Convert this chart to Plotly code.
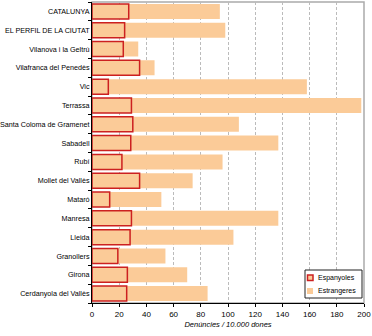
import plotly.graph_objects as go

categories = ["CATALUNYA", "EL PERFIL DE LA CIUTAT", "Vilanova i la Geltrú",
              "Vilafranca del Penedès", "Vic", "Terrassa", "Santa Coloma de Gramenet",
              "Sabadell", "Rubí", "Mollet del Vallès", "Mataró", "Manresa", "Lleida",
              "Granollers", "Girona", "Cerdanyola del Vallès"]
espanyoles = [27, 24, 23, 35, 12, 29, 30, 28.5, 22, 35, 13, 29, 28, 19, 26, 25.5]
estrangeres = [94, 98, 34, 46, 158, 198, 108, 137, 96, 74, 51, 137, 104, 54, 70, 85]
x_ticks = list(range(0, 201, 20))
series_names = ["Espanyoles", "Estrangeres"]

peach = "#FBCB98"
red = "#CC2020"
font = "Liberation Sans, Arial, sans-serif"

fig = go.Figure()
fig.add_trace(go.Bar(y=categories, x=estrangeres, orientation="h", name=series_names[1],
                     marker=dict(color=peach, line=dict(width=0)), width=0.8, showlegend=False))
fig.add_trace(go.Bar(y=categories, x=espanyoles, orientation="h", name=series_names[0],
                     marker=dict(color=peach, line=dict(color=red, width=1.5)), width=0.8,
                     showlegend=False))

# compact custom legend (paper coordinates)
W, H = 272.0, 301.0
def px(xp):
    return (xp - 92) / W
def py(yp):
    return (303 - yp) / H

shapes = [
    dict(type="rect", xref="paper", yref="paper", x0=0, x1=1, y0=0, y1=1,
         line=dict(color="#AAAAAA", width=1.5), layer="below"),
    dict(type="rect", xref="paper", yref="paper", x0=px(305), x1=px(362), y0=py(298), y1=py(270),
         line=dict(color="#222", width=1), fillcolor="white", layer="above"),
    dict(type="rect", xref="paper", yref="paper", x0=px(307.5), x1=px(313), y0=py(280.5), y1=py(275),
         line=dict(color=red, width=1.5), fillcolor=peach, layer="above"),
    dict(type="rect", xref="paper", yref="paper", x0=px(307), x1=px(313), y0=py(294), y1=py(288),
         line=dict(width=0), fillcolor=peach, layer="above"),
]
annotations = [
    dict(xref="paper", yref="paper", x=px(316), y=py(278), text=series_names[0],
         showarrow=False, xanchor="left", yanchor="middle", font=dict(size=7)),
    dict(xref="paper", yref="paper", x=px(316), y=py(291), text=series_names[1],
         showarrow=False, xanchor="left", yanchor="middle", font=dict(size=7)),
]

fig.update_layout(
    width=372, height=336, barmode="overlay",
    margin=dict(l=92, r=8, t=2, b=33),
    plot_bgcolor="white", paper_bgcolor="white",
    font=dict(family=font, size=8, color="#000"),
    showlegend=False,
    xaxis=dict(range=[0, 200], tickvals=x_ticks, showgrid=True,
               gridcolor="#BBBBBB", griddash="3px,2px", gridwidth=1,
               showline=True, linecolor="#000", linewidth=1,
               ticks="outside", ticklen=3, tickcolor="#000",
               tickfont=dict(size=8),
               title=dict(text="<i>Denúncies / 10.000 dones</i>", font=dict(size=7.5), standoff=4),
               zeroline=False),
    yaxis=dict(categoryorder="array", categoryarray=categories[::-1],
               showline=True, linecolor="#000", linewidth=1,
               ticks="outside", ticklen=3, tickcolor="#000", tickson="boundaries",
               tickfont=dict(size=7.2), automargin=False,
               showgrid=False, range=[-0.5, len(categories) - 0.5]),
    shapes=shapes,
    annotations=annotations,
)

fig.write_html("out.html")
